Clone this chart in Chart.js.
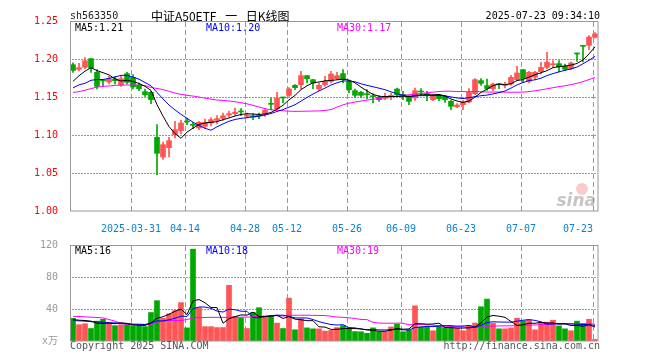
<!DOCTYPE html>
<html>
<head>
<meta charset="utf-8">
<script src="https://cdn.jsdelivr.net/npm/chart.js@4.4.1/dist/chart.umd.min.js"></script>
<style>
  body { margin: 0; background: #fff; }
  #wrap { position: relative; width: 660px; height: 360px; overflow: hidden; font-family: "DejaVu Sans Mono", monospace; }
  canvas { position: absolute; left: 0; }
  .txt { position: absolute; font-size: 10px; line-height: 12px; white-space: pre; }
</style>
</head>
<body>
<div id="wrap">
  <canvas id="kline" width="660" height="235" style="top:0"></canvas>
  <canvas id="vol" width="660" height="125" style="top:235px"></canvas>
  <div class="txt" style="left:70px;top:10px;color:#222">sh563350</div>
  <div class="txt" style="left:151px;top:6px;font-family:'Noto Sans CJK SC';font-size:12px;line-height:20px;word-spacing:6px;color:#000">中证A50ETF 一 日K线图</div>
  <div class="txt" style="right:60px;top:10px;color:#000">2025-07-23 09:34:10</div>
  <div class="txt" style="left:70px;top:340px;color:#555">Copyright 2025 SINA.COM</div>
  <div class="txt" style="right:60px;top:340px;color:#555">http://finance.sina.com.cn</div>
</div>
<script>
// trading days, 2025
const dates = [
  '03-17','03-18','03-19','03-20','03-21','03-24','03-25','03-26','03-27','03-28','03-31',
  '04-01','04-02','04-03','04-07','04-08','04-09','04-10','04-11','04-14','04-15','04-16','04-17','04-18','04-21','04-22','04-23','04-24','04-25','04-28','04-29','04-30',
  '05-06','05-07','05-08','05-09','05-12','05-13','05-14','05-15','05-16','05-19','05-20','05-21','05-22','05-23','05-26','05-27','05-28','05-29','05-30',
  '06-03','06-04','06-05','06-06','06-09','06-10','06-11','06-12','06-13','06-16','06-17','06-18','06-19','06-20','06-23','06-24','06-25','06-26','06-27','06-30',
  '07-01','07-02','07-03','07-04','07-07','07-08','07-09','07-10','07-11','07-14','07-15','07-16','07-17','07-18','07-21','07-22','07-23'
];
const tickDates = ['03-31','04-14','04-28','05-12','05-26','06-09','06-23','07-07','07-23'];
const tickLabels = ['2025-03-31','04-14','04-28','05-12','05-26','06-09','06-23','07-07','07-23'];
const priceTicks = [1.00, 1.05, 1.10, 1.15, 1.20, 1.25];
const volTicks = [0, 40, 80, 120];

const open = [
  1.1925,1.1864,1.189,1.2004,1.1825,1.1716,1.1697,1.1737,1.1662,1.1807,
  1.1759,1.1658,1.157,1.1561,1.0969,1.0711,1.0833,1.1004,1.1057,1.118,
  1.1136,1.1092,1.1114,1.1158,1.1193,1.1219,1.1263,1.1281,1.1316,1.1246,
  1.1254,1.1263,1.1281,1.1417,1.1346,1.1496,1.1522,1.1654,1.1662,1.1781,
  1.1728,1.1605,1.1662,1.1706,1.1741,1.1807,1.1697,1.1583,1.1561,1.1544,
  1.1513,1.1496,1.1482,1.15,1.1605,1.1535,1.1509,1.1487,1.1579,1.1544,
  1.1465,1.1518,1.1509,1.1443,1.1373,1.1399,1.1434,1.1544,1.1715,1.1649,
  1.161,1.1675,1.1654,1.1671,1.1728,1.186,1.1706,1.1759,1.1833,1.189,
  1.1925,1.1939,1.1904,1.1873,1.2075,1.2175,1.218,1.2285
];
const high = [
  1.195,1.1943,1.2018,1.2008,1.186,1.1718,1.1772,1.1768,1.178,1.1825,
  1.1794,1.1684,1.1605,1.1575,1.1136,1.0908,1.0969,1.118,1.1193,1.1224,
  1.1167,1.118,1.121,1.1228,1.1254,1.1289,1.1316,1.1355,1.1346,1.1289,
  1.1281,1.1289,1.1342,1.1487,1.1561,1.15,1.1623,1.1662,1.1838,1.1785,
  1.1732,1.1684,1.1772,1.1838,1.1825,1.186,1.1719,1.1605,1.1575,1.1596,
  1.1544,1.1518,1.1553,1.1553,1.1618,1.1575,1.1518,1.1618,1.161,1.1575,
  1.1531,1.1531,1.1522,1.1456,1.1412,1.1452,1.161,1.1741,1.1741,1.1737,
  1.1684,1.168,1.1697,1.1785,1.1904,1.1864,1.1838,1.1838,1.1956,1.2088,
  1.1978,1.1978,1.1934,1.1961,1.2079,1.2179,1.2307,1.2346
];
const low = [
  1.1825,1.1842,1.1873,1.1825,1.1605,1.164,1.1671,1.1671,1.164,1.1671,
  1.1605,1.1583,1.1509,1.1412,1.0478,1.068,1.0711,1.096,1.1013,1.1136,
  1.1083,1.107,1.1083,1.1118,1.1145,1.1193,1.1237,1.1254,1.1254,1.1224,
  1.1202,1.1215,1.1246,1.1333,1.1333,1.1421,1.1509,1.1596,1.1605,1.1684,
  1.161,1.1583,1.164,1.1684,1.1728,1.1684,1.1553,1.1496,1.1496,1.1474,
  1.1421,1.1443,1.1465,1.1465,1.1518,1.1465,1.1399,1.1456,1.1531,1.1452,
  1.1452,1.1452,1.143,1.1333,1.136,1.1333,1.1421,1.1531,1.1654,1.1588,
  1.1583,1.161,1.1618,1.1654,1.1715,1.1697,1.1684,1.1728,1.1803,1.1873,
  1.189,1.1829,1.1846,1.186,1.1969,1.1961,1.2123,1.2276
];
const close = [
  1.185,1.1886,1.1978,1.1882,1.164,1.1712,1.1741,1.1715,1.1741,1.1693,
  1.1632,1.161,1.1531,1.1465,1.0759,1.0873,1.0925,1.107,1.1158,1.1171,
  1.1127,1.1167,1.1167,1.1202,1.1215,1.1254,1.1281,1.1298,1.1303,1.1263,
  1.1237,1.125,1.1325,1.1404,1.1487,1.1487,1.1605,1.1623,1.1781,1.1741,
  1.1684,1.1654,1.1706,1.1803,1.1781,1.1728,1.1596,1.1522,1.1522,1.1531,
  1.1504,1.1465,1.1509,1.1522,1.1531,1.1522,1.1443,1.1583,1.1566,1.1531,
  1.1518,1.1478,1.1465,1.1377,1.1395,1.1434,1.1561,1.1728,1.168,1.161,
  1.1671,1.1662,1.1671,1.1759,1.1816,1.1741,1.1825,1.1825,1.189,1.1956,
  1.1934,1.1895,1.1864,1.1947,1.2066,1.2167,1.2289,1.2329
];
const ma5 = [
  1.1706,1.178,1.184,1.1886,1.1847,1.182,1.1791,1.1738,1.171,1.172,
  1.1704,1.1678,1.1641,1.1586,1.1399,1.1248,1.1111,1.1018,1.0957,1.1039,
  1.109,1.1139,1.1158,1.1167,1.1176,1.1201,1.1224,1.125,1.127,1.128,
  1.1276,1.127,1.1276,1.1296,1.1341,1.1391,1.1462,1.1521,1.1597,1.1647,
  1.1687,1.1697,1.1713,1.1718,1.1726,1.1734,1.1723,1.1686,1.163,1.158,
  1.1535,1.1509,1.1506,1.1506,1.1506,1.151,1.1505,1.152,1.1529,1.1529,
  1.1528,1.1535,1.1512,1.1474,1.1447,1.143,1.1446,1.1499,1.156,1.1603,
  1.165,1.167,1.1659,1.1675,1.1716,1.173,1.1762,1.1793,1.1819,1.1847,
  1.1886,1.19,1.1908,1.1919,1.1941,1.1988,1.2067,1.216
];
const ma10 = [
  1.162,1.166,1.168,1.172,1.173,1.173,1.1746,1.1763,1.1785,1.1784,
  1.1762,1.1734,1.169,1.1648,1.156,1.1476,1.1394,1.133,1.1272,1.1219,
  1.1169,1.1125,1.1088,1.1062,1.1108,1.1146,1.1181,1.1204,1.1219,1.1228,
  1.1239,1.1247,1.1263,1.1283,1.131,1.1334,1.1366,1.1398,1.1446,1.1494,
  1.1539,1.1579,1.1617,1.1657,1.1687,1.1711,1.171,1.17,1.1674,1.1653,
  1.1635,1.1616,1.1596,1.1568,1.1543,1.1522,1.1507,1.1513,1.1518,1.1518,
  1.1519,1.152,1.1516,1.1501,1.1488,1.1479,1.1491,1.1505,1.1517,1.1525,
  1.154,1.1558,1.1579,1.1617,1.1659,1.169,1.1716,1.1726,1.1747,1.1782,
  1.1808,1.1831,1.1851,1.1869,1.1894,1.1937,1.1983,1.2034
];
const ma30 = [
  1.156,1.157,1.159,1.161,1.163,1.164,1.1645,1.1653,1.1655,1.1658,
  1.1658,1.1655,1.165,1.1625,1.1612,1.1598,1.1575,1.155,1.1535,1.1522,
  1.1512,1.15,1.1485,1.1472,1.146,1.1455,1.1448,1.1438,1.1425,1.141,
  1.139,1.1369,1.1347,1.1331,1.1326,1.1318,1.1314,1.1311,1.1312,1.1314,
  1.1315,1.1317,1.1323,1.1334,1.1368,1.1397,1.1419,1.1434,1.1446,1.1458,
  1.1471,1.1481,1.1492,1.1503,1.1513,1.1522,1.1528,1.1537,1.1546,1.1555,
  1.1564,1.1572,1.1576,1.1576,1.1572,1.1571,1.1569,1.1573,1.1569,1.1565,
  1.1565,1.1565,1.1564,1.1562,1.1563,1.1564,1.1571,1.1582,1.1594,1.1608,
  1.1622,1.1637,1.1648,1.1663,1.168,1.1702,1.173,1.1755
];
// volume, x万
const volume = [
  28.4,20.4,21.6,15.6,24.8,27.2,21.6,19.2,20.4,20.4,
  19.2,19.2,18,35.6,50.4,28.4,34,38,48,16.4,
  114.8,41.6,18,18,16.8,16.8,69.6,30.8,28.8,15.6,
  35.6,41.6,30.8,30.8,22.4,15.6,53.6,14,27.6,16.4,
  15.2,15.2,12.4,13.2,16.8,19.2,16.6,11.8,11.6,9.6,
  16.4,11.6,11.6,17.6,21.2,11.6,13.6,44,17.6,18.4,
  12.8,18.8,16.8,16.8,16,12.8,19.6,22.4,42.8,52.4,
  22.4,15.2,15.2,16.4,28.4,25.2,26.4,14,23.2,23.6,
  26,18.8,15.2,12.8,24.8,20.8,27.2,2
];
const vma5 = [
  26.8,26,25.6,24.8,22.2,21.9,22.2,21.7,22.6,21.8,
  20.2,19.7,19.4,22.5,28.5,30.3,33.3,37.3,39.8,33,
  50.2,51.8,47.8,41.8,41.8,22.2,27.8,30.4,32.6,32.3,
  36.1,30.5,30.5,30.9,32.2,28.2,30.6,27.3,26.6,25.4,
  25.4,17.7,17.4,14.5,14.6,15.4,15.6,15.5,15.2,13.8,
  13.2,12.2,12.2,13.4,15.7,14.7,15.1,21.6,21.6,21,
  21.3,22.3,16.9,16.7,16.2,16.2,16.4,17.5,22.7,30,
  31.9,31,29.6,24.3,19.5,20.1,22.3,22.1,23.4,22.5,
  22.6,21.1,21.4,19.3,19.5,18.5,20.2,17.5
];
const vma10 = [
  25.6,25.2,24.8,24.2,23.8,23.4,23,22.6,22.3,22,
  21,20.9,20.6,22.6,25.1,25.2,26.5,28.4,31.1,30.7,
  40.3,42.5,42.5,40.8,37.4,36.2,39.8,39.1,37.2,37.1,
  29.2,29.2,30.4,31.7,32.3,32.2,30.6,28.9,28.8,28.8,
  26.8,24.2,22.3,20.6,20,20.4,16.7,16.4,14.8,14.2,
  14.3,13.9,13.8,14.3,14.7,14,13.7,16.9,17.5,18.4,
  18,18.7,19.2,19.2,18.6,18.8,19.4,17.2,19.7,23.1,
  24.1,23.7,23.6,23.5,24.8,26,26.7,25.8,23.9,21,
  21.4,21.7,21.7,21.4,21,20.6,20.6,19.4
];
const vma30 = [
  30.8,30.6,30.2,29.8,29.4,28.8,26.8,24.8,22,20.8,
  20.8,20.8,20.8,20.8,23.6,24.8,25.6,25.6,25.6,26.8,
  28.8,29.2,29.4,29.6,29.6,29.6,29.6,29.6,29.8,29.9,
  30.2,30.9,31.2,31.7,31.6,31.2,32.3,32.1,32.3,32.2,
  32.1,31.9,31.8,31,29.9,29.6,29,28.1,26.9,26.7,
  23.4,22.4,22.2,22.2,22.3,22.2,20.3,20.7,20.4,20.5,
  19.7,18.9,18.5,18,17.8,17.7,16.6,16.8,17.3,18.5,
  18.8,18.8,18.9,19,19.4,19.6,19.9,20,20.4,20.8,
  21.1,21.4,21.5,21.3,21.5,21.8,22.2,20.8
];
const priceLegend = ['1.21', '1.20', '1.17'];
const volLegend = ['16', '18', '19'];

const UP = '#ff5555', DOWN = '#00a800';
const MONO = '"DejaVu Sans Mono", "Noto Sans CJK SC", monospace';
const barColor = close.map((c, i) => c >= open[i] ? UP : DOWN);
const gridValues = { price: priceTicks, vol: volTicks };

// dotted value lines and dashed date lines, placed from the chart's scales
const gridLines = {
  id: 'gridLines',
  afterDraw(chart, args, opts) {
    const ctx = chart.ctx;
    const a = chart.chartArea;
    const xs = chart.scales.x, ys = chart.scales.y;
    const l = Math.floor(a.left), r = Math.floor(a.right);
    const t = Math.floor(a.top), b = Math.floor(a.bottom);
    ctx.save();
    ctx.globalCompositeOperation = 'destination-over';
    ctx.fillStyle = '#999';
    const vals = gridValues[opts.key] || [];
    for (let k = 0; k < vals.length; k++) {
      const py = Math.round(ys.getPixelForValue(vals[k]));
      if (py <= t + 1 || py >= b - 1) continue;
      for (let px = l + 2; px < r - 1; px += 3) ctx.fillRect(px, py, 2, 1);
    }
    for (let i = 0; i < dates.length; i++) {
      if (tickDates.indexOf(dates[i]) < 0) continue;
      const px = Math.round(xs.getPixelForValue(i)) - 2;
      for (let py = t + 1; py < b; py += 8) ctx.fillRect(px, py, 1, Math.min(5, b - py));
    }
    ctx.restore();
  }
};
// grey frame round the plot area
const frame = {
  id: 'frame',
  afterDraw(chart) {
    const { ctx, chartArea: a } = chart;
    ctx.save();
    ctx.strokeStyle = '#999';
    ctx.lineWidth = 1;
    const l = Math.floor(a.left) + 0.5, t = Math.floor(a.top) + 0.5;
    ctx.strokeRect(l, t, Math.floor(a.right) - l, Math.floor(a.bottom) - t);
    ctx.restore();
  }
};
// MA5 / MA10 / MA30 texts in the top-left of each panel
const maText = {
  id: 'maText',
  afterDraw(chart, args, opts) {
    const { ctx, chartArea: a } = chart;
    ctx.save();
    ctx.font = '10px ' + MONO;
    ctx.textBaseline = 'top';
    opts.items.forEach(it => {
      ctx.fillStyle = it.color;
      ctx.fillText(it.text, it.x, a.top + opts.dy);
    });
    ctx.restore();
  }
};
const sinaMark = {
  id: 'sinaMark',
  beforeDatasetsDraw(chart) {
    const { ctx, chartArea: a } = chart;
    ctx.save();
    ctx.fillStyle = 'rgba(235,110,110,0.35)';
    ctx.beginPath();
    ctx.arc(a.right - 16, a.bottom - 22, 6, 0, Math.PI * 2);
    ctx.fill();
    ctx.font = 'italic bold 17px "DejaVu Sans"';
    ctx.fillStyle = 'rgba(150,150,150,0.55)';
    ctx.textAlign = 'right';
    ctx.textBaseline = 'bottom';
    ctx.fillText('sina', a.right - 2, a.bottom - 1);
    ctx.restore();
  }
};

const line = (data, color) => ({
  type: 'line', data, borderColor: color, borderWidth: 1,
  pointRadius: 0, tension: 0, order: 0
});

new Chart(document.getElementById('kline'), {
  type: 'bar',
  data: {
    labels: dates,
    datasets: [
      { data: low.map((l, i) => [l, high[i]]), backgroundColor: barColor,
        barThickness: 1, grouped: false, order: 2 },
      { data: open.map((o, i) => [o, close[i]]), backgroundColor: barColor,
        barThickness: 5, minBarLength: 1, grouped: false, order: 1 },
      line(ma5, '#000'),
      line(ma10, '#0000ff'),
      line(ma30, '#ff00ff')
    ]
  },
  options: {
    responsive: false,
    animation: false,
    layout: { padding: { top: 21, right: 62, left: 0, bottom: 0 } },
    scales: {
      x: {
        grid: { display: false },
        border: { display: false },
        ticks: {
          autoSkip: false, maxRotation: 0, minRotation: 0, padding: 4, labelOffset: -2,
          color: '#0a82d2', font: { family: MONO, size: 10 },
          callback: (v, i) => {
            const k = tickDates.indexOf(dates[i]);
            if (k < 0) return '';
            // the last date sits against the right edge, so it is set to the left
            return k === tickLabels.length - 1 ? tickLabels[k] + '     ' : tickLabels[k];
          }
        },
        afterFit: s => { s.height = 24; }
      },
      y: {
        min: priceTicks[0], max: priceTicks[priceTicks.length - 1],
        grid: { display: false },
        border: { display: false },
        ticks: {
          stepSize: 0.05, padding: 4, color: '#f00',
          font: { family: MONO, size: 10 },
          callback: v => v.toFixed(2)
        },
        afterFit: s => { s.width = 70; }
      }
    },
    plugins: {
      legend: { display: false },
      tooltip: { enabled: false },
      gridLines: { key: 'price' },
      maText: {
        dy: 2,
        items: [
          { text: 'MA5:' + priceLegend[0], color: '#000', x: 75 },
          { text: 'MA10:' + priceLegend[1], color: '#0000ff', x: 206 },
          { text: 'MA30:' + priceLegend[2], color: '#ff00ff', x: 337 }
        ]
      }
    }
  },
  plugins: [sinaMark, maText, frame, gridLines]
});

new Chart(document.getElementById('vol'), {
  type: 'bar',
  data: {
    labels: dates,
    datasets: [
      { data: volume, backgroundColor: barColor, barThickness: 5, order: 1 },
      line(vma5, '#000'),
      line(vma10, '#0000ff'),
      line(vma30, '#ff00ff')
    ]
  },
  options: {
    responsive: false,
    animation: false,
    layout: { padding: { top: 6, right: 62, left: 0, bottom: 0 } },
    scales: {
      x: {
        grid: { display: false },
        border: { display: false },
        ticks: { display: false, autoSkip: false, maxRotation: 0 },
        afterFit: s => { s.height = 19; }
      },
      y: {
        min: volTicks[0], max: volTicks[volTicks.length - 1],
        grid: { display: false },
        border: { display: false },
        ticks: {
          stepSize: 40, padding: 4, color: '#999',
          font: { family: MONO, size: 10 },
          callback: v => v === 0 ? 'x万' : v
        },
        afterFit: s => { s.width = 70; }
      }
    },
    plugins: {
      legend: { display: false },
      tooltip: { enabled: false },
      gridLines: { key: 'vol' },
      maText: {
        dy: 1,
        items: [
          { text: 'MA5:' + volLegend[0], color: '#000', x: 75 },
          { text: 'MA10:' + volLegend[1], color: '#0000ff', x: 206 },
          { text: 'MA30:' + volLegend[2], color: '#ff00ff', x: 337 }
        ]
      }
    }
  },
  plugins: [maText, frame, gridLines]
});
</script>
</body>
</html>
